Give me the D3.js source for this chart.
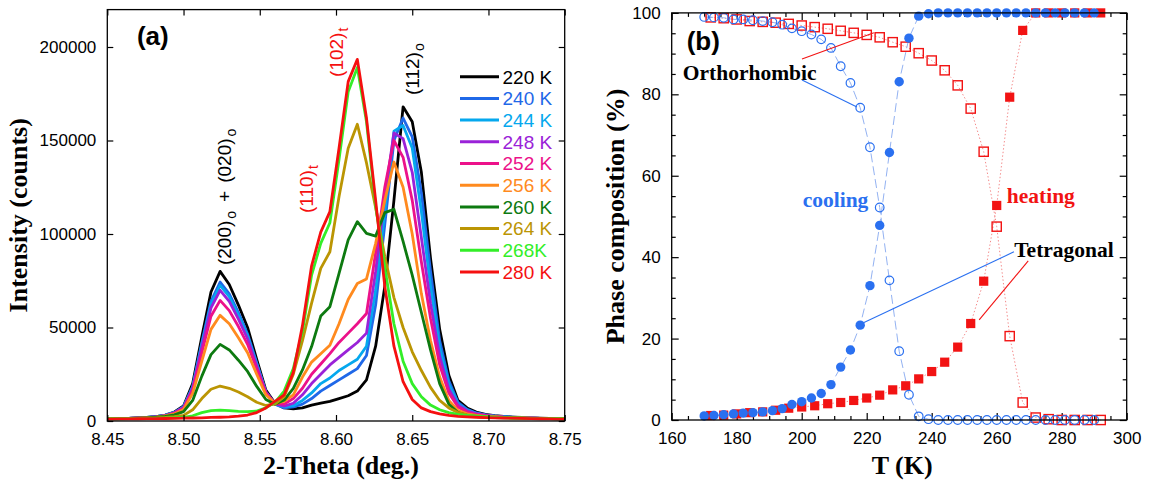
<!DOCTYPE html>
<html>
<head>
<meta charset="utf-8">
<script src="https://cdn.jsdelivr.net/npm/d3@7"></script>
<style>
  body { margin: 0; background: #fff; }
  svg { display: block; }
</style>
</head>
<body>
<svg id="fig" width="1150" height="485"></svg>
<script>
// ---------- (a) diffraction profiles ----------
const twoTheta = [8.446, 8.452, 8.458, 8.464, 8.470, 8.476, 8.482, 8.488, 8.494, 8.500,
  8.506, 8.512, 8.518, 8.524, 8.530, 8.536, 8.542, 8.548, 8.554, 8.560,
  8.566, 8.572, 8.578, 8.584, 8.590, 8.596, 8.602, 8.608, 8.614, 8.620,
  8.626, 8.632, 8.638, 8.644, 8.650, 8.656, 8.662, 8.668, 8.674, 8.680,
  8.686, 8.692, 8.698, 8.704, 8.710, 8.716, 8.722, 8.728, 8.734, 8.740,
  8.746, 8.752];

const tempLabels = ["220 K", "240 K", "244 K", "248 K", "252 K", "256 K", "260 K", "264 K", "268K", "280 K"];
const tempColors = ["#000000", "#1f68e8", "#05a8ee", "#9a22d8", "#ec118a", "#ff8a1e", "#0d7a10", "#bb9503", "#33ee28", "#f51010"];

const i220 = [1200,1250,1300,1400,1600,1900,2400,3200,4800,8000,
  20000,45000,69000,80000,73000,62000,50000,33000,16500,9500,
  7000,6500,7000,8500,9500,10500,12000,13500,16000,22000,
  40000,72000,118000,168000,160000,133000,87000,49000,24500,11000,
  7000,4800,3600,2900,2400,2100,1900,1700,1500,1400,1300,1200];
const i240 = [1200,1250,1300,1400,1600,1900,2300,3100,4600,7600,
  18500,42000,64000,74300,68000,58000,46500,31000,15500,9000,
  7000,7500,9000,12000,16000,19000,22000,25000,28000,35000,
  62000,105000,150000,162000,152000,122000,80000,43000,21500,10000,
  6200,4300,3300,2700,2300,2000,1800,1600,1450,1350,1250,1200];
const i244 = [1200,1250,1300,1400,1600,1900,2300,3000,4500,7400,
  18000,41000,62500,72500,66500,56500,45500,30500,15500,9000,
  7500,8200,11000,15000,20000,23000,27000,30000,33000,40000,
  70000,112000,155000,158000,146000,112000,72000,39000,19500,9200,
  5800,4100,3200,2600,2200,1900,1700,1550,1400,1300,1250,1200];
const i248 = [1200,1250,1300,1400,1600,1850,2250,2900,4400,7200,
  17500,39500,60500,69900,64000,54500,44000,29500,15500,9200,
  8000,9500,14000,20000,25000,30000,34000,38000,42000,47000,
  80000,120000,154000,151000,133000,98000,63000,34500,17000,8500,
  5500,3900,3100,2500,2100,1900,1700,1550,1400,1300,1250,1200];
const i252 = [1200,1250,1300,1400,1550,1800,2200,2800,4200,6800,
  16500,36500,56000,64500,59000,50500,41000,28000,15000,9300,
  9000,12000,17500,25000,30500,36000,42000,47000,52000,57500,
  90000,125000,150000,141000,118000,85000,55000,30000,15000,7500,
  4800,3600,2900,2400,2000,1800,1650,1500,1400,1300,1250,1200];
const i256 = [1200,1250,1300,1400,1550,1750,2100,2700,3800,6200,
  14800,32000,49000,56500,52000,44500,36500,25000,14000,9500,
  10500,14000,23500,31500,36000,40500,52000,65000,73500,76000,
  95000,118000,138500,125000,100000,68000,43000,23500,11000,5700,
  3800,3000,2500,2200,1900,1700,1600,1500,1400,1300,1250,1200];
const i260 = [1200,1250,1300,1350,1500,1700,2000,2500,3300,5000,
  11000,24000,35500,41000,38000,32500,26500,18500,11500,9000,
  11200,17500,27300,39800,56100,61100,79000,96800,106600,100300,
  98900,111400,113200,96000,78000,58000,38000,20000,9000,4500,
  3000,2400,2000,1800,1700,1600,1500,1400,1350,1300,1250,1200];
const i264 = [1200,1250,1300,1350,1450,1550,1700,1900,2300,3000,
  6000,12000,17000,18700,17500,15500,13000,10000,8300,9000,
  13000,25000,43000,63000,81600,90500,120000,145800,158700,138000,
  114000,88000,66000,50000,37000,27000,18000,11000,7000,4500,
  3300,2700,2300,2000,1800,1650,1550,1450,1350,1300,1250,1200];
const i268 = [1100,1150,1200,1250,1300,1350,1400,1500,1700,2000,
  2800,4500,5500,5800,5600,5200,5000,5300,7000,10000,
  16000,28000,48000,78000,95000,106000,140000,176000,189000,160000,
  115000,82000,52000,32000,20000,13000,8500,6000,4500,3500,
  3000,2600,2300,2000,1800,1600,1500,1400,1300,1250,1200,1150];
const i280 = [1000,1050,1100,1150,1200,1250,1300,1350,1400,1500,
  1600,1700,1900,2000,2200,2600,3200,4500,7000,10500,
  14000,26000,51000,83000,101000,112000,146000,181500,193400,162000,
  118000,72000,40000,21000,11500,7000,5000,3800,3000,2500,
  2200,2000,1800,1700,1600,1500,1400,1300,1200,1100,1050,1000];
const intensitySeries = [i220, i240, i244, i248, i252, i256, i260, i264, i268, i280];

const thetaTicks = [8.45, 8.50, 8.55, 8.60, 8.65, 8.70, 8.75];
const countTicks = [0, 50000, 100000, 150000, 200000];

// ---------- (b) phase fractions ----------
const coolT = [170,173,176,179,182,185,188,191,194,197,200,203,206,209,212,215,218,221,224,227,
  230,233,236,239,242,245,248,251,254,257,260,263,266,269,272,275,278,281,284,287,290];
const coolTetragonal = [1.0,1.1,1.3,1.5,1.7,1.8,2.0,2.3,2.8,3.8,4.5,5.4,6.5,8.7,13.0,17.2,23.3,33.0,47.8,65.7,
  83.1,93.8,99.2,99.8,100,100,100,100,100,100,100,100,100,100,100,100,100,100,100,100,100];
const coolOrthorhombic = [99.0,98.9,98.8,98.4,98.4,98.2,98.0,97.7,97.1,96.2,95.5,94.7,93.5,91.4,86.9,82.8,76.7,67.0,52.2,34.3,
  16.9,6.2,0.9,0.2,0,0,0,0,0,0,0,0,0,0,0,0,0,0,0,0,0];
const heatT = [172,176,180,184,188,192,196,200,204,208,212,216,220,224,228,232,236,240,244,248,
  252,256,260,264,268,272,276,280,284,288,292];
const heatTetragonal = [1.1,1.2,1.5,1.8,2.0,2.4,2.9,3.2,3.5,4.0,4.3,4.8,5.4,6.1,7.4,8.4,10.1,11.9,14.2,17.9,
  23.7,34.1,52.7,79.3,95.7,100,100,100,100,100,100];
const heatOrthorhombic = [98.9,98.7,98.4,98.0,97.8,97.6,97.3,96.9,96.5,96.1,95.6,95.1,94.6,94.0,92.8,91.7,90.1,88.3,85.9,82.2,
  76.5,65.9,47.5,20.6,4.3,0.6,0.2,0,0,0,0];

const tempTicks = [160, 180, 200, 220, 240, 260, 280, 300];
const percentTicks = [0, 20, 40, 60, 80, 100];

// ---------- shared styling ----------
const SANS = "'Liberation Sans', Arial, Helvetica, sans-serif";
const SERIF = "'Liberation Serif', 'Times New Roman', Times, serif";
const BLUE = "#2a70f0";
const RED = "#f21313";

const svg = d3.select("#fig");
svg.append("rect").attr("width", 1150).attr("height", 485).attr("fill", "#fff");

function styleAxis(g, size) {
  g.select(".domain").remove();
  g.selectAll("line").attr("stroke", "#000").attr("stroke-width", 1.2);
  g.selectAll("text").attr("font-family", SANS).attr("font-size", size).attr("fill", "#000");
}

// ================= panel (a) =================
const xa = d3.scaleLinear().domain([8.45, 8.75]).range([107.3, 564.7]);
const ya = d3.scaleLinear().domain([0, 220000]).range([421, 9.6]);
const gA = svg.append("g");

gA.append("defs").append("clipPath").attr("id", "clipA")
  .append("rect").attr("x", xa(8.45)).attr("y", ya(220000))
  .attr("width", xa(8.75) - xa(8.45)).attr("height", ya(0) - ya(220000));

const lineA = d3.line().x((d, i) => xa(twoTheta[i])).y(d => ya(d));
gA.append("g").attr("clip-path", "url(#clipA)")
  .selectAll("path").data(intensitySeries).join("path")
  .attr("d", d => lineA(d))
  .attr("fill", "none")
  .attr("stroke", (d, i) => tempColors[i])
  .attr("stroke-width", 2.8)
  .attr("stroke-linejoin", "round");

gA.append("g").attr("transform", `translate(0,${ya(0)})`)
  .call(d3.axisBottom(xa).tickValues(thetaTicks).tickSize(-6).tickPadding(12).tickFormat(d3.format(".2f")))
  .call(g => styleAxis(g, 17));
gA.append("g").attr("transform", `translate(0,${ya(220000)})`)
  .call(d3.axisTop(xa).tickValues(thetaTicks).tickSize(-6).tickFormat(""))
  .call(g => styleAxis(g, 17));
gA.append("g").attr("transform", `translate(${xa(8.45)},0)`)
  .call(d3.axisLeft(ya).tickValues(countTicks).tickSize(-6).tickPadding(11).tickFormat(d3.format("d")))
  .call(g => styleAxis(g, 17));
gA.append("g").attr("transform", `translate(${xa(8.75)},0)`)
  .call(d3.axisRight(ya).tickValues(countTicks).tickSize(-6).tickFormat(""))
  .call(g => styleAxis(g, 17));

gA.append("rect")
  .attr("x", xa(8.45)).attr("y", ya(220000))
  .attr("width", xa(8.75) - xa(8.45)).attr("height", ya(0) - ya(220000))
  .attr("fill", "none").attr("stroke", "#000").attr("stroke-width", 1.3);

// axis titles
gA.append("text")
  .attr("x", (xa(8.45) + xa(8.75)) / 2 + 5).attr("y", 474)
  .attr("text-anchor", "middle").attr("font-family", SERIF).attr("font-weight", "bold")
  .attr("font-size", 26).text("2-Theta (deg.)");
gA.append("text")
  .attr("transform", `translate(27,${(ya(0) + ya(220000)) / 2}) rotate(-90)`)
  .attr("text-anchor", "middle").attr("font-family", SERIF).attr("font-weight", "bold")
  .attr("font-size", 26).text("Intensity (counts)");

gA.append("text").attr("x", xa(8.4694)).attr("y", ya(201000))
  .attr("font-family", SANS).attr("font-weight", "bold").attr("font-size", 26).text("(a)");

// reflection labels, written vertically with a phase subscript
// each part: [text, isSubscript, extra gap before it]
function peakLabel(x2t, counts, parts, color) {
  const t = gA.append("text")
    .attr("transform", `translate(${xa(x2t)},${ya(counts)}) rotate(-90)`)
    .attr("font-family", SANS).attr("font-size", 19).attr("fill", color);
  let shift = 0;
  parts.forEach(([txt, sub, gap]) => {
    const dy = sub ? 5 - shift : -shift;
    shift = sub ? 5 : 0;
    t.append("tspan").attr("dx", gap || 0).attr("dy", dy)
      .attr("font-size", sub ? 14 : 19).text(txt);
  });
}
peakLabel(8.5310, 83400, [["(200)", false, 0], ["o", true, 2], ["+", false, 9], ["(020)", false, 8], ["o", true, 2]], "#000");
peakLabel(8.5847, 111200, [["(110)", false, 0], ["t", true, 1]], "#f51010");
peakLabel(8.6049, 184000, [["(102)", false, 0], ["t", true, 1]], "#f51010");
peakLabel(8.6547, 174300, [["(112)", false, 0], ["o", true, 1]], "#000");

// legend
const legA = gA.append("g");
tempLabels.forEach((lab, i) => {
  const y = 76.7 + 21.7 * i;
  legA.append("line").attr("x1", 460).attr("x2", 499).attr("y1", y).attr("y2", y)
    .attr("stroke", tempColors[i]).attr("stroke-width", 3);
  legA.append("text").attr("x", 502.5).attr("y", y).attr("dy", "0.36em")
    .attr("font-family", SANS).attr("font-size", 19).attr("fill", tempColors[i]).text(lab);
});

// ================= panel (b) =================
const xb = d3.scaleLinear().domain([160, 300]).range([671.7, 1126.7]);
const yb = d3.scaleLinear().domain([0, 100]).range([420, 12.9]);
const gB = svg.append("g");

const minorT = d3.range(160, 301, 5).filter(v => v % 20 !== 0);
const minorP = d3.range(0, 101, 5).filter(v => v % 20 !== 0);

function tickSet(axisFn, scale, values, len, withLabels, pad) {
  return axisFn(scale).tickValues(values).tickSize(-len).tickPadding(pad || 3)
    .tickFormat(withLabels ? d3.format("d") : "");
}
const bottomB = `translate(0,${yb(0)})`, topB = `translate(0,${yb(100)})`;
const leftB = `translate(${xb(160)},0)`, rightB = `translate(${xb(300)},0)`;
[[d3.axisBottom, xb, bottomB, tempTicks, minorT, true, 12],
 [d3.axisTop, xb, topB, tempTicks, minorT, false, 3],
 [d3.axisLeft, yb, leftB, percentTicks, minorP, true, 11],
 [d3.axisRight, yb, rightB, percentTicks, minorP, false, 3]].forEach(([fn, sc, tr, major, minor, lab, pad]) => {
  gB.append("g").attr("transform", tr).call(tickSet(fn, sc, minor, 4, false)).call(g => styleAxis(g, 17));
  gB.append("g").attr("transform", tr).call(tickSet(fn, sc, major, 7, lab, pad)).call(g => styleAxis(g, 17));
});

// connecting lines
const lineCool = d3.line().x((d, i) => xb(coolT[i])).y(d => yb(d));
const lineHeat = d3.line().x((d, i) => xb(heatT[i])).y(d => yb(d));
[heatTetragonal, heatOrthorhombic].forEach(s => {
  gB.append("path").attr("d", lineHeat(s)).attr("fill", "none")
    .attr("stroke", "#f48a8a").attr("stroke-width", 1).attr("stroke-dasharray", "1.4,2.2");
});
[coolTetragonal, coolOrthorhombic].forEach(s => {
  gB.append("path").attr("d", lineCool(s)).attr("fill", "none")
    .attr("stroke", "#93b2f2").attr("stroke-width", 1).attr("stroke-dasharray", "9,4");
});

// heating markers: squares
gB.append("g").selectAll("rect").data(heatOrthorhombic).join("rect")
  .attr("x", (d, i) => xb(heatT[i]) - 4.6).attr("y", d => yb(d) - 4.6)
  .attr("width", 9.2).attr("height", 9.2)
  .attr("fill", "none").attr("stroke", RED).attr("stroke-width", 1.4);
gB.append("g").selectAll("rect").data(heatTetragonal).join("rect")
  .attr("x", (d, i) => xb(heatT[i]) - 4.6).attr("y", d => yb(d) - 4.6)
  .attr("width", 9.2).attr("height", 9.2).attr("fill", RED);

// cooling markers: circles
gB.append("g").selectAll("circle").data(coolOrthorhombic).join("circle")
  .attr("cx", (d, i) => xb(coolT[i])).attr("cy", d => yb(d)).attr("r", 4.3)
  .attr("fill", "none").attr("stroke", BLUE).attr("stroke-width", 1.2);
gB.append("g").selectAll("circle").data(coolTetragonal).join("circle")
  .attr("cx", (d, i) => xb(coolT[i])).attr("cy", d => yb(d)).attr("r", 4.7)
  .attr("fill", BLUE);

gB.append("rect")
  .attr("x", xb(160)).attr("y", yb(100))
  .attr("width", xb(300) - xb(160)).attr("height", yb(0) - yb(100))
  .attr("fill", "none").attr("stroke", "#000").attr("stroke-width", 1.3);

// axis titles
gB.append("text")
  .attr("x", (xb(160) + xb(300)) / 2 + 3).attr("y", 474)
  .attr("text-anchor", "middle").attr("font-family", SERIF).attr("font-weight", "bold")
  .attr("font-size", 26).text("T (K)");
gB.append("text")
  .attr("transform", `translate(624,${(yb(0) + yb(100)) / 2}) rotate(-90)`)
  .attr("text-anchor", "middle").attr("font-family", SERIF).attr("font-weight", "bold")
  .attr("font-size", 26).text("Phase composition (%)");

gB.append("text").attr("x", xb(164.6)).attr("y", yb(90.9))
  .attr("font-family", SANS).attr("font-weight", "bold").attr("font-size", 26).text("(b)");

// annotations
const notes = [
  { text: "Orthorhombic", t: 163.4, p: 83.5, color: "#000" },
  { text: "cooling", t: 200.3, p: 52.2, color: BLUE },
  { text: "heating", t: 263.1, p: 53.2, color: RED },
  { text: "Tetragonal", t: 265.4, p: 40.1, color: "#000" }
];
gB.selectAll("text.note").data(notes).join("text").attr("class", "note")
  .attr("x", d => xb(d.t)).attr("y", d => yb(d.p))
  .attr("font-family", SERIF).attr("font-weight", "bold").attr("font-size", 21.5)
  .attr("fill", d => d.color).text(d => d.text);

const leaders = [
  { from: [200.1, 88.7], to: [222.2, 95.1], color: RED },
  { from: [200.1, 83.5], to: [217.0, 76.9], color: BLUE },
  { from: [265.3, 41.3], to: [219.0, 23.9], color: BLUE },
  { from: [269.7, 39.1], to: [254.6, 24.6], color: RED }
];
gB.selectAll("line.leader").data(leaders).join("line").attr("class", "leader")
  .attr("x1", d => xb(d.from[0])).attr("y1", d => yb(d.from[1]))
  .attr("x2", d => xb(d.to[0])).attr("y2", d => yb(d.to[1]))
  .attr("stroke", d => d.color).attr("stroke-width", 1.1);
</script>
</body>
</html>
